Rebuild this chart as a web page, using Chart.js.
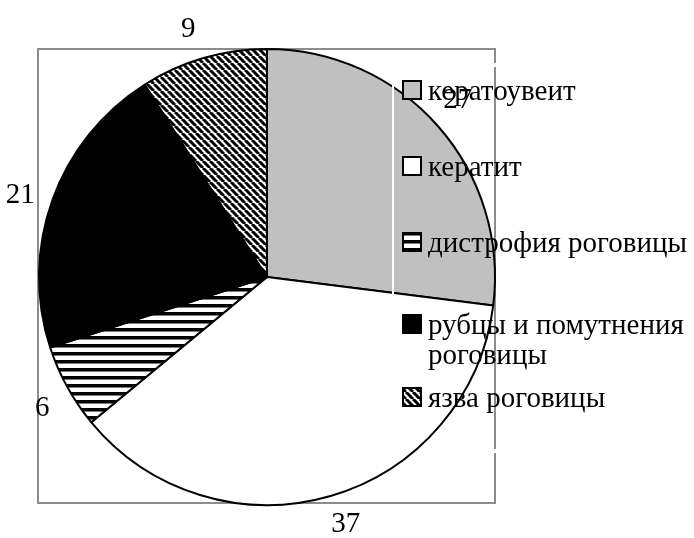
<!DOCTYPE html>
<html>
<head>
<meta charset="utf-8">
<script src="https://cdn.jsdelivr.net/npm/chart.js@4.4.1/dist/chart.umd.min.js"></script>
<style>
  html, body { margin: 0; padding: 0; background: #fff; }
  #wrap { width: 694px; height: 538px; }
</style>
</head>
<body>
<div id="wrap"><canvas id="pie" width="694" height="538"></canvas></div>
<script>
// ===== data =====
const categories = ['кератоувеит', 'кератит', 'дистрофия роговицы', ['рубцы и помутнения', 'роговицы'], 'язва роговицы'];
const values = [27, 37, 6, 21, 9];

const FONT = '"Liberation Serif", "Times New Roman", serif';

// ===== fill patterns (black / white hatching) =====
function stripePattern() {
  const c = document.createElement('canvas');
  c.width = 8; c.height = 8;
  const g = c.getContext('2d');
  g.fillStyle = '#fff'; g.fillRect(0, 0, 8, 8);
  g.fillStyle = '#000'; g.fillRect(0, 0, 8, 3);
  g.fillStyle = '#777'; g.fillRect(0, 3, 8, 1);
  return g.createPattern(c, 'repeat');
}
function diagPattern() {
  const s = 7;
  const c = document.createElement('canvas');
  c.width = s; c.height = s;
  const g = c.getContext('2d');
  g.fillStyle = '#fff'; g.fillRect(0, 0, s, s);
  g.strokeStyle = '#000'; g.lineWidth = 3;
  for (let k = -1; k <= 1; k++) {
    g.beginPath();
    g.moveTo(k * s, 0);
    g.lineTo(k * s + s, s);
    g.stroke();
  }
  return g.createPattern(c, 'repeat');
}

const fills = ['#c0c0c0', '#ffffff', stripePattern(), '#000000', diagPattern()];

// ===== frame, artefacts, labels and legend drawn on top =====
const decor = {
  id: 'decor',
  beforeDraw(chart) {
    const ctx = chart.ctx;
    ctx.save();
    ctx.fillStyle = '#fff';
    ctx.fillRect(0, 0, chart.width, chart.height);
    ctx.strokeStyle = '#8c8c8c';
    ctx.lineWidth = 2;
    ctx.strokeRect(38, 49, 457, 454);
    ctx.restore();
  },
  afterDatasetsDraw(chart) {
    const ctx = chart.ctx;
    ctx.save();
    // thin white seams seen in the original picture
    ctx.fillStyle = '#fff';
    ctx.fillRect(392, 50, 2, 252);
    ctx.fillRect(493, 63, 4, 4);
    ctx.fillRect(493, 449, 4, 4);
    ctx.restore();
  },
  afterDraw(chart) {
    const ctx = chart.ctx;
    const meta = chart.getDatasetMeta(0);
    ctx.save();
    ctx.font = '29px ' + FONT;
    ctx.fillStyle = '#000';
    ctx.textAlign = 'center';
    ctx.textBaseline = 'middle';
    // value labels outside each slice (rotated a touch, like the original)
    meta.data.forEach((arc, i) => {
      const p = arc.getProps(['x', 'y', 'startAngle', 'endAngle', 'outerRadius'], true);
      const a = (p.startAngle + p.endAngle) / 2 - 0.025;
      const r = p.outerRadius + 32;
      ctx.fillText(String(values[i]), p.x + Math.cos(a) * r, p.y + Math.sin(a) * r);
    });
    // legend
    const rows = [91, 167, 243, 325, 398];
    const lineH = 30;
    ctx.textAlign = 'left';
    categories.forEach((lab, i) => {
      const y = rows[i];
      ctx.fillStyle = fills[i];
      ctx.fillRect(403, y - 10, 18, 18);
      ctx.strokeStyle = '#000';
      ctx.lineWidth = 2;
      ctx.strokeRect(403, y - 10, 18, 18);
      ctx.fillStyle = '#000';
      const lines = Array.isArray(lab) ? lab : [lab];
      lines.forEach((ln, j) => ctx.fillText(ln, 428, y + 1 + j * lineH));
    });
    ctx.restore();
  }
};

new Chart(document.getElementById('pie'), {
  type: 'pie',
  data: {
    labels: categories,
    datasets: [{
      data: values,
      backgroundColor: fills,
      borderColor: '#000',
      borderWidth: 2
    }]
  },
  options: {
    responsive: false,
    animation: false,
    layout: { padding: { left: 38, top: 48, right: 198, bottom: 32 } },
    plugins: {
      legend: { display: false },
      tooltip: { enabled: false }
    }
  },
  plugins: [decor]
});
</script>
</body>
</html>
